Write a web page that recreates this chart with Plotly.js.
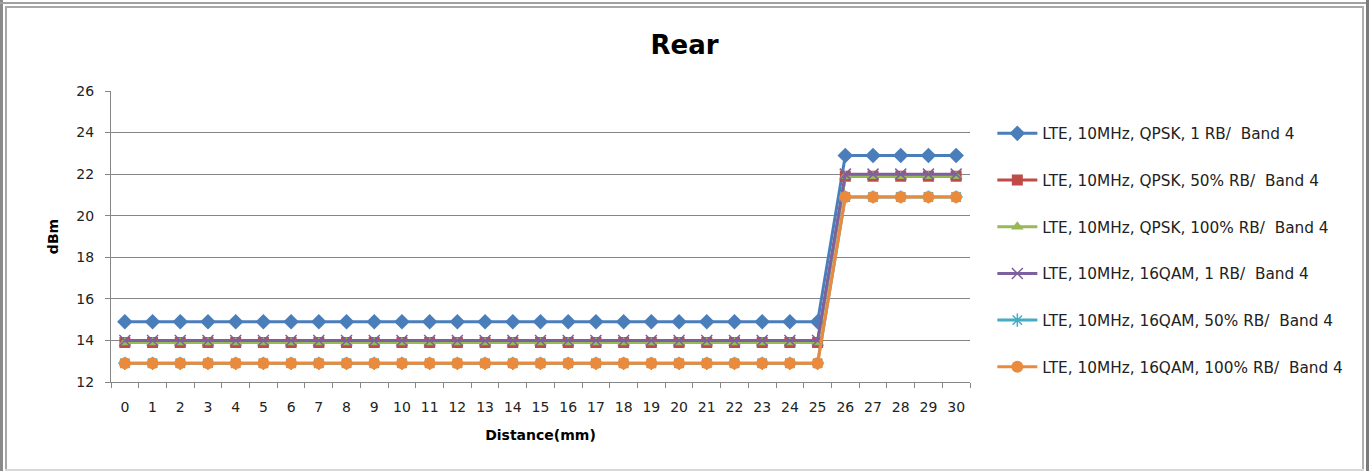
<!DOCTYPE html>
<html>
<head>
<meta charset="utf-8">
<script src="https://cdn.plot.ly/plotly-3.0.1.min.js"></script>
<style>
  html, body { margin: 0; padding: 0; background: #fff; }
  #wrap { position: relative; width: 1369px; height: 471px; overflow: hidden; background: #fff; }
  .ln { position: absolute; }
  #chart { position: absolute; left: 0; top: 0; width: 1369px; height: 471px; }
</style>
</head>
<body>
<div id="wrap">
  <div id="chart"></div>
  <!-- frame lines -->
  <div class="ln" style="left:0;top:0;width:3px;height:471px;background:#8a8a8a;"></div>
  <div class="ln" style="left:5px;top:6px;width:2px;height:465px;background:#a8a8a8;"></div>
  <div class="ln" style="left:0;top:2px;width:1369px;height:2px;background:#a0a0a0;"></div>
  <div class="ln" style="left:5px;top:6px;width:1359px;height:2px;background:#a8a8a8;"></div>
  <div class="ln" style="left:1362px;top:6px;width:2px;height:465px;background:#b0b0b0;"></div>
  <div class="ln" style="left:1366px;top:0;width:3px;height:471px;background:#7a7a7a;"></div>
  <div class="ln" style="left:5px;top:469px;width:1359px;height:2px;background:#d8d8d8;"></div>
</div>
<script>
const distances = ["0","1","2","3","4","5","6","7","8","9","10","11","12","13","14","15","16","17","18","19","20","21","22","23","24","25","26","27","28","29","30"];

const seriesNames = [
  "LTE, 10MHz, QPSK, 1 RB/  Band 4",
  "LTE, 10MHz, QPSK, 50% RB/  Band 4",
  "LTE, 10MHz, QPSK, 100% RB/  Band 4",
  "LTE, 10MHz, 16QAM, 1 RB/  Band 4",
  "LTE, 10MHz, 16QAM, 50% RB/  Band 4",
  "LTE, 10MHz, 16QAM, 100% RB/  Band 4"
];

const qpsk1RB    = [14.9,14.9,14.9,14.9,14.9,14.9,14.9,14.9,14.9,14.9,14.9,14.9,14.9,14.9,14.9,14.9,14.9,14.9,14.9,14.9,14.9,14.9,14.9,14.9,14.9,14.9,22.9,22.9,22.9,22.9,22.9];
const qpsk50RB   = [13.9,13.9,13.9,13.9,13.9,13.9,13.9,13.9,13.9,13.9,13.9,13.9,13.9,13.9,13.9,13.9,13.9,13.9,13.9,13.9,13.9,13.9,13.9,13.9,13.9,13.9,21.9,21.9,21.9,21.9,21.9];
const qpsk100RB  = [13.9,13.9,13.9,13.9,13.9,13.9,13.9,13.9,13.9,13.9,13.9,13.9,13.9,13.9,13.9,13.9,13.9,13.9,13.9,13.9,13.9,13.9,13.9,13.9,13.9,13.9,21.9,21.9,21.9,21.9,21.9];
const qam1RB     = [14,14,14,14,14,14,14,14,14,14,14,14,14,14,14,14,14,14,14,14,14,14,14,14,14,14,22,22,22,22,22];
const qam50RB    = [12.9,12.9,12.9,12.9,12.9,12.9,12.9,12.9,12.9,12.9,12.9,12.9,12.9,12.9,12.9,12.9,12.9,12.9,12.9,12.9,12.9,12.9,12.9,12.9,12.9,12.9,20.9,20.9,20.9,20.9,20.9];
const qam100RB   = [12.9,12.9,12.9,12.9,12.9,12.9,12.9,12.9,12.9,12.9,12.9,12.9,12.9,12.9,12.9,12.9,12.9,12.9,12.9,12.9,12.9,12.9,12.9,12.9,12.9,12.9,20.9,20.9,20.9,20.9,20.9];

const yTicks = [12,14,16,18,20,22,24,26];

const allValues = [qpsk1RB, qpsk50RB, qpsk100RB, qam1RB, qam50RB, qam100RB];
const colors = ["#4A7EBB","#BE4B48","#98B954","#7D60A0","#46AAC5","#EA8A3C"];
const symbols = ["diamond","square","triangle-up","x-thin-open","asterisk-open","circle"];
const msizes = [12,11,11,11,11,12];

const FONT = "'DejaVu Sans', Verdana, sans-serif";

const traces = allValues.map((vals, i) => ({
  x: distances,
  y: vals,
  name: seriesNames[i],
  type: "scatter",
  mode: "lines+markers",
  legendgroup: "g" + i,
  line: { color: colors[i], width: 3 },
  marker: {
    symbol: symbols[i],
    size: msizes[i],
    color: colors[i],
    line: { color: colors[i], width: (symbols[i].indexOf("open") >= 0) ? 1.5 : 0 }
  },
  cliponaxis: false
}));

const layout = {
  width: 1369,
  height: 471,
  paper_bgcolor: "rgba(0,0,0,0)",
  plot_bgcolor: "#fff",
  margin: { l: 111, r: 399, t: 91, b: 89 },
  font: { family: FONT, size: 13, color: "#222" },
  title: {
    text: "<b>Rear</b>",
    font: { family: FONT, size: 26, color: "#000" },
    xref: "container", x: 0.5, xanchor: "center",
    yref: "container", y: 0.905, yanchor: "middle"
  },
  showlegend: true,
  legend: {
    x: 1.026, xanchor: "left",
    y: 0.911, yanchor: "top",
    traceorder: "grouped",
    tracegroupgap: 23.8,
    font: { family: FONT, size: 15.3, color: "#222" },
    bgcolor: "rgba(0,0,0,0)",
    itemwidth: 40
  },
  xaxis: {
    type: "category",
    range: [-0.5, 30.5],
    tickson: "boundaries",
    ticks: "outside",
    ticklen: 5,
    tickcolor: "#868686",
    showline: true,
    linecolor: "#868686",
    linewidth: 1,
    showgrid: false,
    zeroline: false,
    ticklabelstandoff: 12,
    tickfont: { family: FONT, size: 14, color: "#222" },
    title: { text: "<b>Distance(mm)</b>", font: { family: FONT, size: 14, color: "#000" }, standoff: 16 },
    fixedrange: true
  },
  yaxis: {
    range: [12, 26],
    tickvals: yTicks,
    ticktext: yTicks.map(String),
    ticks: "outside",
    ticklen: 5,
    tickcolor: "#868686",
    showline: true,
    linecolor: "#868686",
    linewidth: 1,
    showgrid: true,
    gridcolor: "#868686",
    gridwidth: 1,
    zeroline: false,
    ticklabelstandoff: 8,
    tickfont: { family: FONT, size: 14, color: "#222" },
    title: { text: "<b>dBm</b>", font: { family: FONT, size: 14, color: "#000" }, standoff: 14 },
    fixedrange: true
  }
};

Plotly.newPlot("chart", traces, layout, { displayModeBar: false, staticPlot: true });
</script>
</body>
</html>
